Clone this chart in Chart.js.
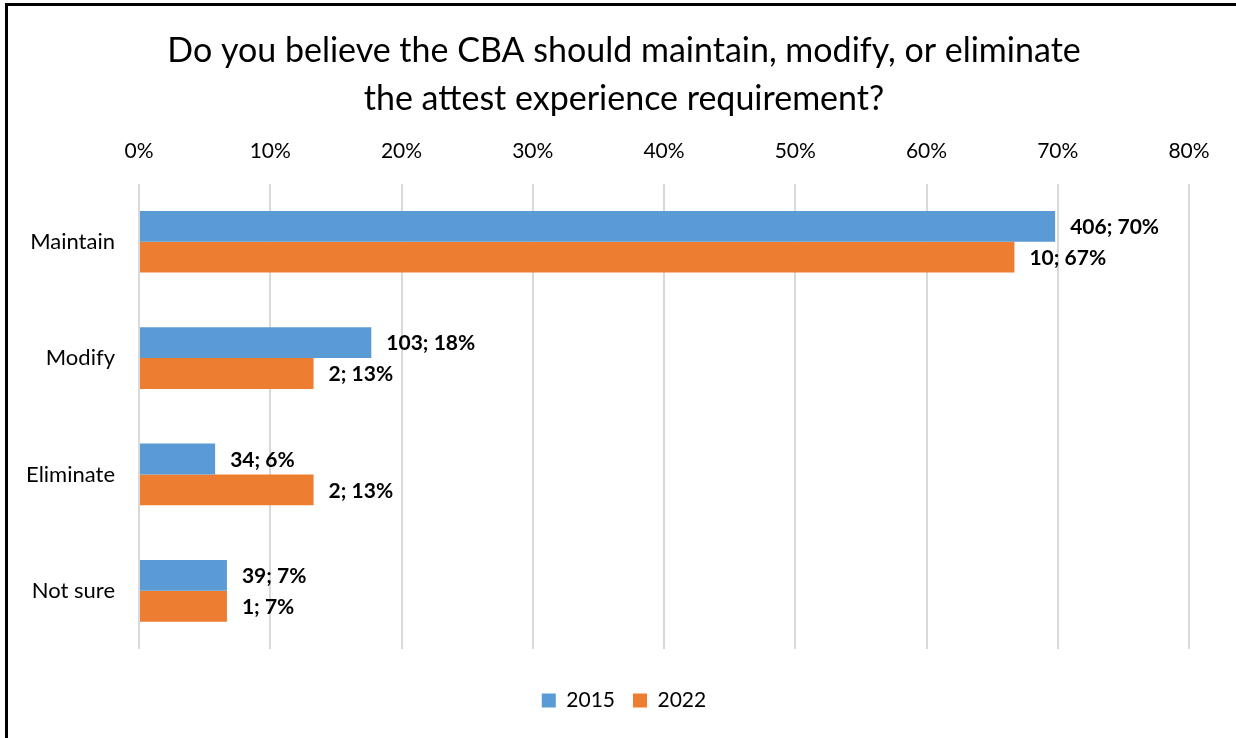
<!DOCTYPE html>
<html>
<head>
<meta charset="utf-8">
<script src="https://cdn.jsdelivr.net/npm/chart.js@4.4.0/dist/chart.umd.min.js"></script>
<style>
  html, body { margin: 0; padding: 0; background: #fff; }
  #wrap { position: absolute; left: 0; top: 0; width: 1236px; height: 738px; }
</style>
</head>
<body>
<div id="wrap"><canvas id="myChart" width="1236" height="738"></canvas></div>
<script>
const categories = ["Maintain", "Modify", "Eliminate", "Not sure"];
const seriesNames = ["2015", "2022"];

// respondent counts and share of respondents (%)
const counts2015 = [406, 103, 34, 39];
const counts2022 = [10, 2, 2, 1];
const share2015 = [69.8, 17.7, 5.8, 6.7];
const share2022 = [66.7, 13.3, 13.3, 6.7];

const xTicks = [0, 10, 20, 30, 40, 50, 60, 70, 80];

const FONT = "Lato, 'Open Sans', sans-serif";

// frame lines on the top and left edges
const framePlugin = {
  id: "frame",
  beforeDraw(chart) {
    const ctx = chart.ctx;
    ctx.save();
    ctx.fillStyle = "#fff";
    ctx.fillRect(0, 0, chart.width, chart.height);
    ctx.strokeStyle = "#000";
    ctx.lineWidth = 3;
    ctx.beginPath();
    ctx.moveTo(6.5, chart.height);
    ctx.lineTo(6.5, 4.5);
    ctx.lineTo(chart.width, 4.5);
    ctx.stroke();
    ctx.restore();
  }
};

// "count; pct%" labels after each bar
const barLabels = {
  id: "barLabels",
  afterDatasetsDraw(chart) {
    const ctx = chart.ctx;
    ctx.save();
    ctx.font = "bold 21px " + FONT;
    ctx.fillStyle = "#000";
    ctx.textBaseline = "middle";
    ctx.textAlign = "left";
    chart.data.datasets.forEach((ds, i) => {
      const meta = chart.getDatasetMeta(i);
      meta.data.forEach((bar, j) => {
        const txt = ds.counts[j] + "; " + Math.round(ds.data[j]) + "%";
        ctx.fillText(txt, bar.x + 15, bar.y + 1);
      });
    });
    ctx.restore();
  }
};

const data = {
  labels: categories,
  datasets: [
    {
      label: seriesNames[0],
      data: share2015,
      counts: counts2015,
      backgroundColor: "#5B9BD5",
      borderWidth: 0,
    },
    {
      label: seriesNames[1],
      data: share2022,
      counts: counts2022,
      backgroundColor: "#ED7D31",
      borderWidth: 0,
    },
  ],
};

const config = {
  type: "bar",
  data: data,
  options: {
    indexAxis: "y",
    responsive: false,
    animation: false,
    categoryPercentage: 0.53,
    barPercentage: 1.0,
    layout: {
      padding: { left: 12, right: 0, top: 0, bottom: 17 },
    },
    plugins: {
      tooltip: { enabled: false },
      title: {
        display: true,
        text: [
          "Do you believe the CBA should maintain, modify, or eliminate",
          "the attest experience requirement?",
        ],
        color: "#000",
        font: { family: FONT, size: 34, weight: "normal", lineHeight: 1.42 },
        padding: { top: 27, bottom: 0 },
      },
      legend: {
        position: "bottom",
        // empty title only used as a spacer above the items
        title: {
          display: true,
          text: "",
          font: { size: 10, lineHeight: 1 },
          padding: { top: 13, bottom: 0 },
        },
        labels: {
          color: "#000",
          font: { family: FONT, size: 21 },
          boxWidth: 14,
          boxHeight: 14,
          padding: 18,
        },
      },
    },
    scales: {
      x: {
        position: "top",
        min: 0,
        max: 80,
        afterBuildTicks(scale) {
          scale.ticks = xTicks.map((v) => ({ value: v }));
        },
        afterFit(scale) {
          scale.height = 60;
        },
        grid: {
          color: "#D9D9D9",
          lineWidth: 2,
          drawTicks: false,
        },
        border: { display: false },
        ticks: {
          color: "#000",
          font: { family: FONT, size: 21 },
          padding: 20,
          callback: (v) => v + "%",
        },
      },
      y: {
        afterFit(scale) {
          scale.width = 127;
        },
        grid: { display: false, drawTicks: false },
        border: { display: false },
        ticks: {
          color: "#000",
          font: { family: FONT, size: 22 },
          padding: 24,
        },
      },
      // blank right margin so the plot ends at 80% with room for labels
      yRight: {
        axis: "y",
        type: "category",
        position: "right",
        afterFit(scale) {
          scale.width = 47;
        },
        grid: { display: false, drawTicks: false },
        border: { display: false },
        ticks: { display: false },
      },
    },
  },
  plugins: [framePlugin, barLabels],
};

const myChart = new Chart(document.getElementById("myChart"), config);
</script>
</body>
</html>
